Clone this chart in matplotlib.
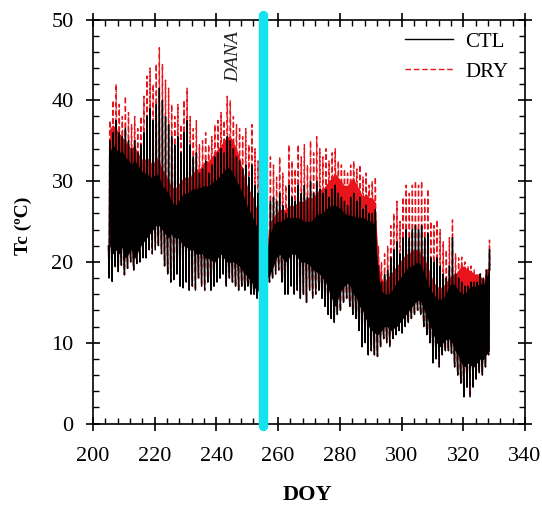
# %% Libraries
import numpy as np
import matplotlib.pyplot as plt
from matplotlib.ticker import MultipleLocator

# %% Data
# --+ day of year covered by the record
doy = np.arange(205, 329)
# --+ CTL daily extremes (min / max spikes) and the dense band (lo / hi), degC
ctl_min = [18.0, 17.6, 19.4, 18.8, 19.6, 18.4, 19.2, 20.0, 19.0, 19.8,
           20.0, 20.5, 20.5, 21.5, 21.0, 21.5, 22.0, 21.0, 19.5, 18.5,
           17.5, 17.8, 18.5, 17.0, 16.8, 17.5, 16.5, 17.0, 16.5, 18.0,
           17.0, 16.5, 17.5, 16.5, 17.0, 17.5, 18.0, 18.5, 17.0, 18.0,
           17.5, 17.0, 16.5, 17.0, 16.5, 17.0, 16.0, 16.0, 15.5, 15.0,
           14.8, 16.0, 17.5, 18.0, 18.5, 19.0, 17.5, 16.0, 16.0, 17.0,
           16.0, 16.5, 15.5, 16.0, 15.0, 16.5, 15.5, 16.0, 16.5, 15.5,
           14.5, 13.5, 13.0, 12.5, 13.5, 14.0, 15.0, 15.5, 14.5, 13.5,
           13.0, 11.5, 9.5, 10.0, 8.5, 9.0, 8.5, 8.3, 9.5, 10.5,
           10.0, 9.5, 10.5, 11.0, 11.5, 11.2, 12.0, 12.5, 13.0, 13.5,
           14.0, 13.5, 12.0, 11.0, 10.0, 7.5, 8.0, 7.0, 8.5, 9.0,
           9.0, 8.7, 7.0, 6.0, 5.0, 3.3, 4.5, 3.3, 4.5, 5.5,
           6.3, 6.0, 7.0, 8.5]
ctl_lo = [22.0, 21.0, 21.5, 21.0, 21.8, 20.5, 21.0, 21.6, 20.4, 21.2,
          22.0, 22.5, 23.0, 23.5, 24.0, 24.5, 24.5, 24.0, 23.5, 23.0,
          23.5, 23.0, 23.0, 22.5, 22.0, 21.8, 21.5, 21.5, 21.0, 21.0,
          21.0, 20.5, 20.5, 20.2, 20.0, 20.5, 21.0, 20.5, 20.0, 20.0,
          20.0, 19.8, 19.5, 19.0, 18.5, 18.0, 17.5, 16.8, 16.5, 16.0,
          16.0, 18.0, 18.5, 19.5, 20.5, 21.0, 20.5, 20.0, 20.5, 21.0,
          21.0, 20.5, 20.0, 20.0, 19.8, 19.5, 19.0, 18.8, 18.5, 18.0,
          17.5, 16.5, 15.5, 14.5, 15.5, 16.5, 17.0, 17.4, 17.0, 16.0,
          15.5, 14.5, 14.0, 13.0, 12.0, 11.5, 11.2, 11.0, 11.5, 12.0,
          12.0, 11.5, 11.8, 12.0, 12.5, 13.0, 13.5, 14.0, 14.5, 15.0,
          15.3, 15.0, 14.0, 13.0, 12.0, 11.0, 10.0, 9.5, 10.0, 10.4,
          10.5, 10.0, 9.0, 8.5, 7.5, 7.0, 7.5, 7.2, 7.0, 7.5,
          8.0, 7.9, 8.5, 9.0]
ctl_hi = [33.5, 34.5, 34.0, 33.5, 33.8, 33.0, 32.6, 32.0, 32.6, 32.0,
          31.5, 31.0, 31.0, 30.5, 30.5, 31.0, 30.5, 29.5, 29.0, 28.5,
          27.5, 27.0, 27.2, 28.0, 28.5, 28.5, 28.8, 29.0, 29.0, 29.2,
          29.3, 29.5, 29.3, 29.8, 30.0, 30.3, 30.8, 31.2, 31.7, 31.5,
          31.0, 30.0, 29.3, 28.5, 27.5, 26.5, 25.8, 25.0, 24.0, 22.0,
          20.0, 21.5, 23.5, 24.5, 25.0, 25.0, 25.0, 25.5, 25.5, 25.5,
          25.5, 25.5, 25.3, 25.0, 25.0, 25.0, 25.3, 25.8, 26.0, 26.0,
          26.5, 26.8, 27.0, 27.0, 26.8, 26.5, 26.0, 25.8, 25.8, 25.6,
          25.6, 25.5, 25.5, 25.3, 25.0, 25.0, 24.5, 18.5, 16.5, 16.0,
          16.0, 16.2, 16.8, 17.5, 18.0, 18.5, 19.0, 19.4, 19.5, 19.8,
          20.0, 19.5, 18.5, 17.5, 16.5, 16.0, 15.5, 15.3, 15.5, 16.0,
          17.0, 17.4, 17.0, 16.5, 16.1, 16.0, 16.5, 17.0, 17.0, 17.0,
          17.5, 17.0, 18.0, 19.0]
ctl_max = [35.0, 36.0, 37.5, 36.0, 35.5, 36.5, 35.0, 34.0, 35.0, 33.5,
           34.5, 36.0, 38.0, 39.0, 37.5, 39.5, 41.5, 40.0, 38.0, 37.0,
           35.5, 34.5, 35.5, 33.5, 36.0, 37.5, 34.5, 33.0, 33.5, 31.0,
           31.5, 32.5, 31.0, 32.0, 33.0, 33.5, 34.0, 33.5, 35.5, 35.0,
           34.0, 33.0, 32.5, 31.5, 32.0, 30.5, 32.0, 29.5, 28.5, 26.0,
           22.0, 24.0, 27.5, 28.0, 27.5, 28.5, 27.0, 26.0, 29.5, 28.0,
           27.5, 29.5, 28.5, 29.5, 28.0, 30.0, 28.5, 30.0, 29.0, 28.5,
           29.0, 28.0, 29.0, 29.5, 28.5, 28.0, 27.5, 27.0, 28.0, 28.5,
           27.5, 28.0, 26.5, 27.0, 26.0, 26.0, 26.5, 19.5, 17.5, 18.5,
           19.0, 20.5, 21.5, 22.5, 21.0, 23.0, 24.0, 23.0, 24.0, 24.5,
           24.0, 24.5, 23.0, 23.5, 20.5, 20.0, 20.5, 19.5, 18.5, 18.0,
           19.5, 23.0, 18.5, 18.0, 17.5, 17.0, 17.0, 17.5, 17.5, 17.5,
           18.5, 18.0, 19.0, 21.5]
# --+ DRY dense band top and daily maxima, degC (night values as CTL)
dry_hi = [36.5, 37.0, 36.5, 36.0, 35.5, 35.0, 34.5, 34.0, 34.5, 33.5,
          33.0, 32.5, 33.0, 32.5, 32.0, 33.0, 32.5, 31.5, 31.0, 30.0,
          29.5, 29.0, 29.5, 30.0, 30.5, 30.5, 30.5, 31.0, 31.5, 31.5,
          32.0, 32.5, 32.5, 33.0, 33.5, 34.0, 34.5, 35.0, 35.5, 35.5,
          35.0, 34.0, 33.0, 31.5, 30.0, 29.0, 28.5, 27.5, 26.0, 23.5,
          21.0, 22.5, 25.0, 25.5, 26.0, 26.5, 26.5, 26.5, 27.0, 27.0,
          27.0, 27.5, 27.5, 27.5, 28.0, 28.0, 28.0, 28.5, 29.0, 29.0,
          29.5, 30.0, 30.5, 31.0, 30.5, 30.0, 29.5, 29.5, 30.0, 30.5,
          29.5, 29.0, 28.0, 28.5, 28.0, 28.0, 27.5, 20.5, 18.0, 17.5,
          18.0, 18.5, 19.0, 19.5, 20.0, 20.5, 21.0, 21.0, 21.5, 21.5,
          21.5, 21.0, 20.5, 19.5, 18.5, 17.5, 17.0, 16.8, 17.0, 17.5,
          18.0, 18.5, 18.5, 19.0, 19.5, 19.5, 19.0, 19.0, 18.5, 18.5,
          18.5, 17.5, 19.0, 19.5]
dry_max = [37.5, 40.0, 42.0, 39.5, 38.0, 40.5, 38.5, 37.0, 38.0, 36.5,
           38.0, 40.5, 43.0, 44.0, 42.0, 44.5, 46.5, 44.5, 42.5, 41.5,
           39.5, 38.0, 39.5, 37.0, 40.0, 41.5, 38.0, 36.5, 37.5, 34.5,
           35.0, 36.0, 34.5, 35.5, 37.0, 37.5, 38.5, 37.5, 40.5, 40.0,
           38.0, 37.0, 36.5, 35.5, 36.5, 34.5, 37.0, 34.0, 32.5, 30.0,
           24.0, 27.0, 33.0, 32.0, 30.5, 33.0, 31.0, 29.5, 34.5, 32.5,
           31.5, 34.5, 33.0, 34.5, 32.0, 35.0, 33.5, 35.5, 34.0, 33.0,
           34.0, 32.5, 33.5, 34.0, 32.5, 32.0, 31.5, 31.0, 32.0, 32.5,
           31.5, 32.0, 30.5, 31.0, 29.5, 30.0, 30.5, 22.0, 20.0, 21.0,
           22.0, 24.5, 26.0, 27.5, 25.0, 28.0, 29.5, 28.5, 29.5, 30.0,
           29.5, 30.0, 28.0, 29.0, 25.0, 24.5, 25.2, 24.0, 22.5, 21.5,
           23.0, 25.2, 21.0, 20.5, 20.6, 20.0, 19.5, 19.5, 19.0, 18.5,
           18.5, 17.8, 19.0, 22.7]
# --+ DANA event
dana_doy = 255.1

# %% Daily cycle
# --+ time of day for night, dawn min, morning, noon band, afternoon max, evening
hours = np.array([0.0, 0.2, 0.26, 0.4, 0.5, 0.6])


def daily_cycle(lo, mn, hi, mx):
    t = (doy[:, None] + hours[None, :]).ravel()
    v = np.column_stack([lo, mn, lo, hi, mx, hi]).ravel()
    return t, v


t_ctl, tc_ctl = daily_cycle(ctl_lo, ctl_min, ctl_hi, ctl_max)
t_dry, tc_dry = daily_cycle(ctl_lo, ctl_min, dry_hi, dry_max)

# %% Plot
plt.rcParams['font.family'] = ['Liberation Serif', 'DejaVu Serif']
fig = plt.figure(figsize=(5.42, 5.08), dpi=100)
ax = fig.add_axes([0.1716, 0.1663, 0.7970, 0.7953])
# --+ dense part of the daily cycles
ax.fill_between(doy + 0.4, ctl_lo, dry_hi, color='#e8141b', lw=0, zorder=1)
ax.fill_between(doy + 0.4, ctl_lo, ctl_hi, color='black', lw=0, zorder=2.5)
# --+ series
dry, = ax.plot(t_dry, tc_dry, color='#e8141b', lw=1.0,
               linestyle=(0, (4, 2)), zorder=2, label='DRY')
ctl, = ax.plot(t_ctl, tc_ctl, color='black', lw=1.0, zorder=3, label='CTL')
# --+ DANA band
ax.plot([dana_doy, dana_doy], [-0.3, 50.5], color='#12e3ee', lw=6.8,
        solid_capstyle='round', clip_on=False, zorder=5)
ax.text(245.6, 45.4, 'DANA', rotation=90, style='italic', fontsize=14,
        ha='center', va='center', color='#222222')
# --+ axes
ax.set_xlim(200, 340)
ax.set_ylim(0, 50)
ax.xaxis.set_major_locator(MultipleLocator(20))
ax.xaxis.set_minor_locator(MultipleLocator(4))
ax.yaxis.set_major_locator(MultipleLocator(10))
ax.yaxis.set_minor_locator(MultipleLocator(2))
ax.tick_params(which='major', direction='inout', length=10, width=1.2,
               top=True, right=True, labelsize=16)
ax.tick_params(which='minor', direction='in', length=4, width=1.0,
               top=True, right=True)
ax.tick_params(axis='x', which='major', pad=12)
ax.tick_params(axis='y', which='major', pad=9)
for s in ax.spines.values():
    s.set_linewidth(1.2)
ax.set_xlabel('DOY', fontsize=16, fontweight='bold')
ax.set_ylabel('Tc (ºC)', fontsize=14, fontweight='bold')
ax.xaxis.set_label_coords(0.497, -0.152)
ax.yaxis.set_label_coords(-0.141, 0.49)
# --+ legend
ax.legend(handles=[ctl, dry], loc='upper right', frameon=False, fontsize=15,
          handlelength=2.3, handletextpad=0.6, labelspacing=0.5,
          bbox_to_anchor=(0.99, 1.0), borderaxespad=0.2)

fig.savefig('out.png', dpi=100)
